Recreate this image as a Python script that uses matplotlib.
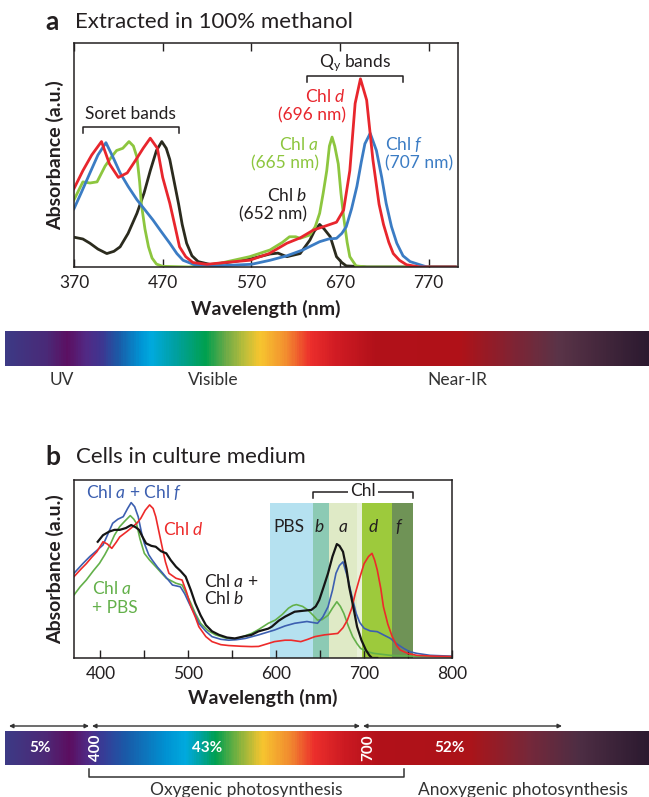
"""Chlorophyll absorbance spectra (extract vs. cells) with solar spectrum bars
"""
import matplotlib
matplotlib.use("Agg")
import matplotlib.pyplot as plt
import numpy as np
from matplotlib.colors import LinearSegmentedColormap

plt.rcParams["font.family"] = ["Lato", "DejaVu Sans"]
plt.rcParams["mathtext.fontset"] = "custom"
plt.rcParams["mathtext.rm"] = "Lato"
plt.rcParams["mathtext.it"] = "Lato:italic"
plt.rcParams["mathtext.bf"] = "Lato:bold"

W, H = 649, 797

# ---- panel a: extracted in methanol (wavelength nm, absorbance a.u.)
a_red_wl = [370, 380, 390, 401, 410, 420, 430, 440, 448, 456, 464, 470, 478, 484, 489, 496, 504, 520,
            540, 568, 590, 610, 625, 640, 655, 666, 674, 681, 687, 693, 700, 707, 714, 719, 725, 730,
            737, 745, 760, 800]
a_red = [0.35, 0.43, 0.50, 0.56, 0.46, 0.40, 0.42, 0.48, 0.53, 0.575, 0.53, 0.40, 0.285, 0.18, 0.09,
         0.046, 0.02, 0.012, 0.02, 0.03, 0.06, 0.106, 0.13, 0.165, 0.185, 0.20, 0.254, 0.43, 0.73, 0.84,
         0.745, 0.48, 0.28, 0.19, 0.11, 0.06, 0.03, 0.01, 0.0, 0.0]

a_green_wl = [370, 380, 388, 396, 405, 412, 418, 425, 432, 437, 441, 444, 446, 450, 454, 458, 463, 470,
              500, 535, 568, 591, 605, 613, 620, 625, 636, 642, 647, 651, 655, 658, 661, 664, 668, 671,
              674, 678, 681, 688, 700, 800]
a_green = [0.30, 0.38, 0.375, 0.38, 0.45, 0.49, 0.52, 0.53, 0.56, 0.54, 0.49, 0.38, 0.28, 0.17, 0.09,
           0.04, 0.013, 0.003, 0.0, 0.017, 0.046, 0.076, 0.11, 0.135, 0.135, 0.128, 0.143, 0.18, 0.24,
           0.33, 0.43, 0.54, 0.58, 0.54, 0.46, 0.33, 0.225, 0.11, 0.046, 0.005, 0.0, 0.0]

a_blue_wl = [370, 378, 388, 397, 406, 414, 422, 431, 441, 450, 459, 468, 478, 486, 493, 506, 530, 570,
             591, 610, 628, 647, 657, 666, 672, 677, 683, 689, 694, 698, 704, 711, 717, 722, 728, 734,
             741, 749, 768, 800]
a_blue = [0.26, 0.33, 0.42, 0.50, 0.555, 0.49, 0.42, 0.36, 0.30, 0.255, 0.21, 0.16, 0.106, 0.06, 0.03,
          0.01, 0.005, 0.012, 0.03, 0.05, 0.076, 0.113, 0.125, 0.128, 0.15, 0.18, 0.26, 0.36, 0.47,
          0.55, 0.597, 0.52, 0.40, 0.284, 0.18, 0.106, 0.05, 0.024, 0.0, 0.0]

a_black_wl = [370, 380, 388, 397, 407, 415, 422, 431, 441, 449, 456, 463, 469, 474, 478, 483, 488, 492,
              497, 503, 510, 525, 568, 591, 600, 610, 625, 636, 641, 647, 652, 659, 666, 672, 677, 700,
              800]
a_black = [0.133, 0.125, 0.106, 0.08, 0.06, 0.07, 0.09, 0.15, 0.24, 0.33, 0.43, 0.52, 0.56, 0.53, 0.48,
           0.38, 0.28, 0.19, 0.106, 0.05, 0.024, 0.01, 0.035, 0.058, 0.062, 0.046, 0.06, 0.12, 0.16,
           0.19, 0.17, 0.135, 0.046, 0.02, 0.005, 0.0, 0.0]

# ---- panel b: cells in culture medium
b_blue_wl = [370, 380, 388, 395, 403, 408, 414, 420, 426, 431, 435, 439, 443, 447, 450, 455, 459, 465,
             471, 477, 482, 491, 496, 501, 507, 512, 520, 527, 537, 546, 555, 565, 580, 598, 610, 621,
             635, 647, 653, 659, 664, 668, 672, 676, 681, 686, 691, 695, 700, 707, 715, 722, 730, 737,
             745, 752, 760, 775, 790, 800]
b_blue = [0.476, 0.53, 0.57, 0.60, 0.635, 0.69, 0.757, 0.78, 0.794, 0.84, 0.873, 0.85, 0.794, 0.70,
          0.644, 0.58, 0.55, 0.51, 0.476, 0.44, 0.41, 0.40, 0.36, 0.307, 0.25, 0.195, 0.15, 0.12, 0.105,
          0.10, 0.103, 0.11, 0.13, 0.157, 0.18, 0.195, 0.205, 0.195, 0.23, 0.288, 0.38, 0.476, 0.52,
          0.54, 0.457, 0.35, 0.25, 0.20, 0.167, 0.152, 0.148, 0.13, 0.11, 0.08, 0.054, 0.035, 0.026,
          0.015, 0.012, 0.01]

b_red_wl = [370, 378, 384, 390, 396, 403, 408, 413, 418, 422, 430, 437, 442, 446, 451, 456, 460, 463,
            467, 471, 474, 478, 486, 493, 498, 503, 508, 512, 520, 527, 537, 546, 560, 572, 580, 598,
            610, 617, 628, 636, 644, 655, 670, 676, 681, 686, 690, 695, 700, 705, 709, 712, 715, 719,
            722, 727, 732, 737, 741, 750, 760, 780, 800]
b_red = [0.457, 0.50, 0.53, 0.565, 0.597, 0.653, 0.64, 0.616, 0.65, 0.68, 0.71, 0.738, 0.76, 0.785,
         0.83, 0.86, 0.84, 0.794, 0.70, 0.607, 0.54, 0.476, 0.448, 0.438, 0.37, 0.288, 0.23, 0.176,
         0.12, 0.092, 0.075, 0.07, 0.066, 0.064, 0.065, 0.092, 0.10, 0.10, 0.092, 0.105, 0.12, 0.13,
         0.138, 0.17, 0.213, 0.28, 0.363, 0.45, 0.53, 0.57, 0.588, 0.55, 0.494, 0.39, 0.288, 0.19, 0.12,
         0.07, 0.045, 0.025, 0.015, 0.01, 0.008]

b_green_wl = [370, 377, 384, 392, 399, 405, 411, 416, 422, 428, 434, 438, 441, 445, 450, 456, 463, 469,
              475, 486, 493, 498, 503, 508, 514, 522, 531, 542, 553, 562, 572, 580, 591, 599, 607, 614,
              619, 623, 630, 636, 642, 647, 652, 659, 664, 669, 673, 677, 682, 687, 692, 696, 704, 711,
              730, 760, 800]
b_green = [0.354, 0.40, 0.438, 0.49, 0.532, 0.58, 0.635, 0.69, 0.738, 0.77, 0.80, 0.78, 0.757, 0.67,
           0.588, 0.55, 0.513, 0.48, 0.448, 0.42, 0.41, 0.36, 0.307, 0.25, 0.195, 0.155, 0.13, 0.113,
           0.105, 0.12, 0.138, 0.16, 0.195, 0.213, 0.245, 0.28, 0.295, 0.30, 0.29, 0.27, 0.24, 0.213,
           0.215, 0.24, 0.28, 0.316, 0.29, 0.25, 0.18, 0.12, 0.08, 0.054, 0.035, 0.026, 0.015, 0.01,
           0.008]

b_black_wl = [397, 403, 410, 416, 422, 429, 435, 440, 444, 448, 452, 458, 463, 469, 475, 480, 486, 491,
              497, 503, 508, 514, 520, 527, 535, 544, 553, 562, 572, 580, 591, 595, 603, 610, 621, 630,
              640, 645, 649, 654, 659, 664, 669, 672, 676, 680, 683, 688, 692, 697, 702, 706, 709, 715]
b_black = [0.653, 0.69, 0.71, 0.72, 0.72, 0.73, 0.747, 0.735, 0.72, 0.68, 0.644, 0.63, 0.625, 0.60,
           0.588, 0.55, 0.513, 0.49, 0.457, 0.38, 0.307, 0.24, 0.185, 0.15, 0.13, 0.115, 0.11, 0.12,
           0.13, 0.15, 0.165, 0.176, 0.21, 0.232, 0.26, 0.265, 0.27, 0.29, 0.326, 0.40, 0.476, 0.57,
           0.64, 0.63, 0.597, 0.50, 0.40, 0.28, 0.176, 0.10, 0.045, 0.015, 0.0, 0.0]

# absorption bands in panel b: (start nm, end nm, colour, label)
band_start = [593, 642, 660.5, 692, 698, 732]
band_end = [642, 660.5, 692, 698, 732, 755.6]
band_colors = ["#b5e1f0", "#8ccab4", "#dfeac6", "#e9f1da", "#9dca3c", "#6f9356"]
band_labels = ["PBS", "$b$", "$a$", "", "$d$", "$f$"]
band_label_x = [615, 649, 676.6, None, 710.5, 740.5]

# spectrum bars: (pixel position along bar, colour)
bar1_stops = [(5, "#3d3a85"), (45, "#4a2a78"), (66, "#5c1062"), (85, "#522a85"), (100, "#3f3590"),
              (118, "#1a5ca8"), (140, "#0095d5"), (150, "#00aadf"), (175, "#00a0a0"), (205, "#00a04f"),
              (225, "#6aaa48"), (245, "#c0bf3a"), (260, "#f7c52f"), (285, "#f39030"), (310, "#ec2f2c"),
              (335, "#d21c24"), (375, "#b2111a"), (460, "#b01218"), (515, "#7f2434"), (560, "#5a3448"),
              (649, "#2c1a30")]
bar2_stops = [(5, "#3d3a85"), (45, "#4e2876"), (68, "#5c0e60"), (88, "#4f2c88"), (100, "#3a3a95"),
              (125, "#1a5aa8"), (165, "#0092d2"), (185, "#00aadf"), (200, "#00a3a0"), (215, "#00a050"),
              (240, "#8ab43e"), (262, "#f7c52f"), (290, "#f18a30"), (314, "#ec2f2c"), (345, "#cc1a22"),
              (380, "#b2111a"), (470, "#ac1419"), (530, "#76283a"), (580, "#4e2e44"), (649, "#2c1a30")]
bar1_labels = ["UV", "Visible", "Near-IR"]
bar1_label_x = [62, 213, 457]
share_labels = ["5%", "43%", "52%"]
share_x = [40, 207, 450]


def px_axes(left, top, right, bottom):
    return fig.add_axes([left / W, 1 - bottom / H, (right - left) / W, (bottom - top) / H])


fig = plt.figure(figsize=(W / 100, H / 100), dpi=100)
ov = fig.add_axes([0, 0, 1, 1], zorder=5)
ov.set_xlim(0, W)
ov.set_ylim(H, 0)
ov.axis("off")

dark = "#231f20"
col_a = {"red": "#e8262d", "green": "#8dc63f", "blue": "#3b7cc4", "black": "#2b2b1e"}
col_b = {"red": "#ed2a2a", "green": "#63b04a", "blue": "#3c5fb0", "black": "#151515"}

# ---------------- panel a
ax = px_axes(74, 43, 458, 267)
ax.plot(a_black_wl, a_black, color=col_a["black"], lw=2.0)
ax.plot(a_green_wl, a_green, color=col_a["green"], lw=2.0)
ax.plot(a_blue_wl, a_blue, color=col_a["blue"], lw=2.0)
ax.plot(a_red_wl, a_red, color=col_a["red"], lw=2.0)
ax.set_xlim(370, 803)
ax.set_ylim(0, 1)
ax.set_xticks([370, 470, 570, 670, 770])
ax.set_yticks([])
ax.tick_params(axis="x", direction="in", top=True, length=6, width=1, labelsize=12.5, pad=6, colors=dark)
for s in ax.spines.values():
    s.set_linewidth(1.1)
    s.set_color(dark)
ax.set_xlabel("Wavelength (nm)", fontsize=14, fontweight="bold", labelpad=6, color=dark)
ax.set_ylabel("Absorbance (a.u.)", fontsize=14, fontweight="bold", labelpad=7, color=dark)

# bracket annotations
ax.plot([380, 380, 488, 488], [0.598, 0.625, 0.625, 0.598], color=dark, lw=1.1, clip_on=False)
ax.text(434, 0.683, "Soret bands", ha="center", va="center", fontsize=12.5, color=dark)
ax.plot([633, 633, 741, 741], [0.826, 0.853, 0.853, 0.826], color=dark, lw=1.1, clip_on=False)
ax.text(687, 0.91, r"Q$_{\rm y}$ bands", ha="center", va="center", fontsize=12.5, color=dark)

lbl = dict(fontsize=12.5, va="center")
ax.text(677, 0.759, "Chl $d$", ha="right", color=col_a["red"], **lbl)
ax.text(677, 0.679, "(696 nm)", ha="right", color=col_a["red"], **lbl)
ax.text(646, 0.549, "Chl $a$", ha="right", color=col_a["green"], **lbl)
ax.text(646, 0.464, "(665 nm)", ha="right", color=col_a["green"], **lbl)
ax.text(633, 0.317, "Chl $b$", ha="right", color=dark, **lbl)
ax.text(633, 0.237, "(652 nm)", ha="right", color=dark, **lbl)
ax.text(721, 0.549, "Chl $f$", ha="left", color=col_a["blue"], **lbl)
ax.text(721, 0.464, "(707 nm)", ha="left", color=col_a["blue"], **lbl)

# ---------------- panel b
bx = px_axes(74, 480, 452, 658)
for x0, x1, c in zip(band_start, band_end, band_colors):
    bx.axvspan(x0, x1, ymin=0, ymax=0.87, color=c, lw=0, zorder=0)
for x, t in zip(band_label_x, band_labels):
    if x is not None:
        bx.text(x, 0.736, t, ha="center", va="center", fontsize=12.5, color=dark)
bx.plot(b_green_wl, b_green, color=col_b["green"], lw=1.2)
bx.plot(b_blue_wl, b_blue, color=col_b["blue"], lw=1.2)
bx.plot(b_red_wl, b_red, color=col_b["red"], lw=1.2)
bx.plot(b_black_wl, b_black, color=col_b["black"], lw=1.6)
bx.set_xlim(370, 796)
bx.set_ylim(0, 1)
bx.set_xticks([400, 500, 600, 700, 800])
bx.set_xticks([450, 550, 650, 750], minor=True)
bx.set_yticks([])
bx.tick_params(axis="x", which="both", direction="in", length=6, width=1, labelsize=12.5, pad=6,
               colors=dark)
for s in bx.spines.values():
    s.set_linewidth(1.1)
    s.set_color(dark)
bx.set_xlabel("Wavelength (nm)", fontsize=14, fontweight="bold", labelpad=5, color=dark)
bx.set_ylabel("Absorbance (a.u.)", fontsize=14, fontweight="bold", labelpad=7, color=dark)

bx.plot([641.7, 641.7, 755.6, 755.6], [0.90, 0.934, 0.934, 0.90], color=dark, lw=1.1, clip_on=False)
bx.text(699, 0.938, "Chl", ha="center", va="center", fontsize=12.5, color=dark,
        bbox=dict(facecolor="white", edgecolor="none", pad=1.5))

bx.text(384, 0.927, "Chl $a$ + Chl $f$", ha="left", color=col_b["blue"], **lbl)
bx.text(471.5, 0.72, "Chl $d$", ha="left", color=col_b["red"], **lbl)
bx.text(517.7, 0.43, "Chl $a$ +", ha="left", color=dark, **lbl)
bx.text(517.7, 0.337, "Chl $b$", ha="left", color=dark, **lbl)
bx.text(390, 0.393, "Chl $a$", ha="left", color=col_b["green"], **lbl)
bx.text(390, 0.28, "+ PBS", ha="left", color=col_b["green"], **lbl)

# ---------------- titles
ov.text(45, 22, "a", fontsize=19, fontweight="bold", va="center", color=dark)
ov.text(75, 22, "Extracted in 100% methanol", fontsize=16, va="center", color=dark)
ov.text(45, 457, "b", fontsize=19, fontweight="bold", va="center", color=dark)
ov.text(76, 457, "Cells in culture medium", fontsize=16, va="center", color=dark)


# ---------------- spectrum bars
def gradient_bar(top, bottom, stops):
    cm = LinearSegmentedColormap.from_list(
        "spec", [((p - 5) / (W - 5), c) for p, c in stops])
    gx = px_axes(5, top, W, bottom)
    gx.imshow(np.linspace(0, 1, 600)[None, :], cmap=cm, aspect="auto")
    gx.axis("off")
    return gx


gradient_bar(331, 366, bar1_stops)
for x, t in zip(bar1_label_x, bar1_labels):
    ov.text(x, 380, t, ha="center", va="center", fontsize=12.5, color="#333333")

gradient_bar(731, 765, bar2_stops)
for x, t in zip(share_x, share_labels):
    ov.text(x, 748, t, ha="center", va="center", fontsize=11, fontweight="bold", color="white")
ov.text(96, 748, "400", ha="center", va="center", rotation=90, fontsize=11, fontweight="bold",
        color="white")
ov.text(368, 748, "700", ha="center", va="center", rotation=90, fontsize=11, fontweight="bold",
        color="white")

arrow = dict(arrowstyle="<|-|>", color="#333333", lw=1.0, mutation_scale=6, shrinkA=0, shrinkB=0)
for x0, x1 in [(9, 89), (92, 360), (363, 562)]:
    ov.annotate("", xy=(x1, 726), xytext=(x0, 726), arrowprops=arrow)

ov.plot([89, 89, 404, 404], [769, 777, 777, 769], color="#333333", lw=1.1)
ov.text(246, 790, "Oxygenic photosynthesis", ha="center", va="center", fontsize=12.5, color="#333333")
ov.text(523, 790, "Anoxygenic photosynthesis", ha="center", va="center", fontsize=12.5, color="#333333")

fig.savefig("out.png", dpi=100)
